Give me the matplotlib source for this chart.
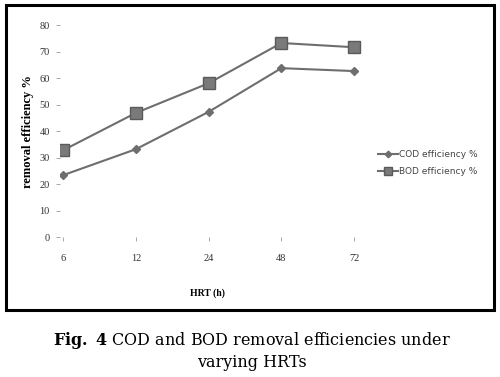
import matplotlib.pyplot as plt
from matplotlib.patches import Rectangle

plt.rcParams['mathtext.fontset'] = 'custom'
plt.rcParams['mathtext.rm'] = 'DejaVu Serif'
plt.rcParams['mathtext.bf'] = 'DejaVu Serif:bold'

hrt_labels = ['6', '12', '24', '48', '72']
cod_eff = [23.4, 33.2, 47.3, 63.8, 62.7]
bod_eff = [32.8, 46.9, 58.1, 73.3, 71.7]
y_ticks = [0, 10, 20, 30, 40, 50, 60, 70, 80]

fig = plt.figure(figsize=(5, 3.77), dpi=100)
# category 0 sits at x~63px, category 4 at x~354px
ax = fig.add_axes([0.119, 0.371, 0.662, 0.562])

x = range(len(hrt_labels))
ax.plot(x, cod_eff, color='#6e6e6e', lw=1.5, marker='D', markersize=4.5,
        label='COD efficiency %')
ax.plot(x, bod_eff, color='#6e6e6e', lw=1.5, marker='s', markersize=8,
        markerfacecolor='#7a7a7a', markeredgecolor='#5a5a5a', label='BOD efficiency %')

ax.set_xlim(-0.05, 4.5)
ax.set_ylim(0, 80)
ax.set_xticks(list(x))
ax.set_xticklabels(hrt_labels, family='Liberation Serif', fontsize=7.5, color='#333333')
ax.set_yticks(y_ticks)
ax.set_yticklabels([str(v) for v in y_ticks], family='Liberation Serif', fontsize=7.5,
                   color='#333333')
ax.tick_params(axis='y', length=3, width=0.6, color='#999999', pad=4)
ax.tick_params(axis='x', length=3, width=0.6, color='#999999', pad=9)
for s in ax.spines.values():
    s.set_visible(False)

fig.text(0.056, 0.65, 'removal efficiency %', family='Liberation Serif',
         fontweight='bold', fontsize=9, rotation=90, ha='center', va='center')
fig.text(0.414, 0.222, 'HRT (h)', family='Liberation Serif', fontweight='bold',
         fontsize=7, ha='center', va='center')

leg = fig.legend(loc='center left', bbox_to_anchor=(0.74, 0.567), frameon=False,
                 handlelength=2.2, handletextpad=0.1, labelspacing=0.9,
                 markerscale=0.75, prop={'family': 'DejaVu Sans', 'size': 6.5})
for t in leg.get_texts():
    t.set_color('#444444')

fig.patches.append(Rectangle((0.011, 0.178), 0.976, 0.81, transform=fig.transFigure,
                             fill=False, edgecolor='black', lw=2.2))

fig.text(0.504, 0.085, r'$\mathbf{Fig.}$ $\mathbf{4}$ COD and BOD removal efficiencies under',
         family='DejaVu Serif', fontsize=11.5, ha='center', va='baseline')
fig.text(0.504, 0.0265, 'varying HRTs', family='DejaVu Serif', fontsize=11.5,
         ha='center', va='baseline')

fig.savefig('out.png', dpi=100)
